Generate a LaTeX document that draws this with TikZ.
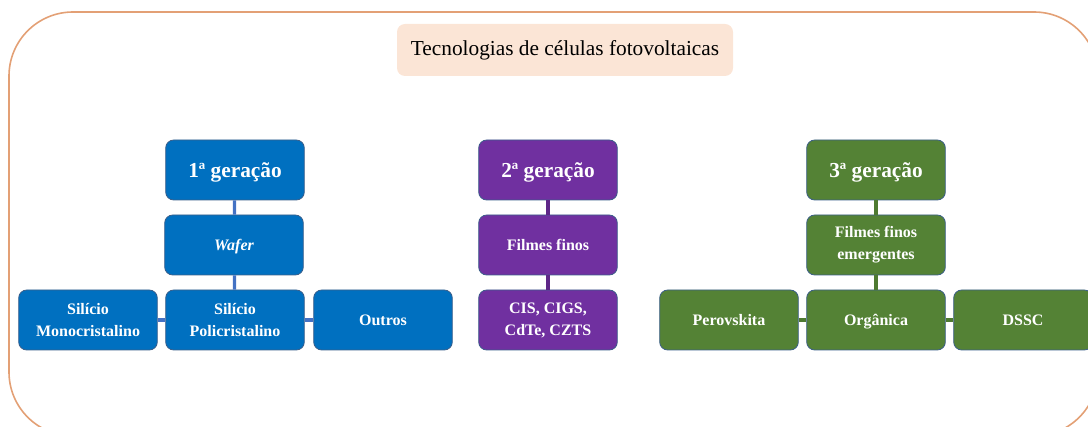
\documentclass[tikz,border=0pt]{standalone}
\usepackage{fontspec}
\setmainfont{Liberation Serif}
\usepackage{tikz}
\usetikzlibrary{positioning}

\definecolor{frameorange}{HTML}{E3A075}
\definecolor{titlefill}{HTML}{FBE5D6}
\definecolor{gblue}{HTML}{0070C0}
\definecolor{gblueline}{HTML}{4472C4}
\definecolor{gpurple}{HTML}{7030A0}
\definecolor{gpurpleline}{HTML}{5E2688}
\definecolor{ggreen}{HTML}{548235}
\definecolor{ggreenline}{HTML}{4E7A31}
\definecolor{boxedge}{HTML}{3C5F8A}

\begin{document}
\begin{tikzpicture}[x=0.75pt, y=-0.75pt,
    techbox/.style={rounded corners=6pt, draw=boxedge, line width=0.6pt,
        minimum width=104pt, minimum height=45pt, align=center,
        text=white, font=\fontsize{12}{16.5}\selectfont\bfseries, inner sep=2pt},
    oneline/.style={text height=9pt, text depth=0pt},
    genbox/.style={techbox, text height=11.5pt, text depth=0pt,
        font=\fontsize{16}{19}\selectfont\bfseries},
    bluebox/.style={fill=gblue},
    purplebox/.style={fill=gpurple},
    greenbox/.style={fill=ggreen},
    link/.style={line width=2.4pt}]
    \useasboundingbox (0,0) rectangle (1088,427);
    \clip (0,0) rectangle (1088,427);
    % Outer frame
    \draw[frameorange, line width=1.2pt, rounded corners=48pt] (9,12) rectangle (1098,436);
    % Title
    \node[fill=titlefill, rounded corners=6pt, minimum width=252pt, minimum height=39pt,
        font=\fontsize{16}{19}\selectfont] (title) at (565,50) {Tecnologias de células fotovoltaicas};

    % 1st generation
    \node[genbox, bluebox] (gen1) at (235,170) {1ª geração};
    \node[techbox, oneline, bluebox] (wafer) at (234,245) {\itshape Wafer};
    \node[techbox, bluebox] (mono) at (88,320) {Silício\\Monocristalino};
    \node[techbox, bluebox] (poli) at (235,320) {Silício\\Policristalino};
    \node[techbox, oneline, bluebox] (outros) at (383,320) {Outros};
    \draw[link, gblueline] (gen1) -- (wafer);
    \draw[link, gblueline] (wafer) -- (poli);
    \draw[link, gblueline] (mono) -- (poli);
    \draw[link, gblueline] (poli) -- (outros);

    % 2nd generation
    \node[genbox, purplebox] (gen2) at (548,170) {2ª geração};
    \node[techbox, oneline, purplebox] (filmes) at (548,245) {Filmes finos};
    \node[techbox, purplebox] (cis) at (548,320) {CIS, CIGS,\\CdTe, CZTS};
    \draw[link, gpurpleline] (gen2) -- (filmes);
    \draw[link, gpurpleline] (filmes) -- (cis);

    % 3rd generation
    \node[genbox, greenbox] (gen3) at (876,170) {3ª geração};
    \node[techbox, greenbox] (emerg) at (876,245) {Filmes finos\\emergentes};
    \node[techbox, oneline, greenbox] (perov) at (729,320) {Perovskita};
    \node[techbox, oneline, greenbox] (organica) at (876,320) {Orgânica};
    \node[techbox, oneline, greenbox] (dssc) at (1023,320) {DSSC};
    \draw[link, ggreenline] (gen3) -- (emerg);
    \draw[link, ggreenline] (emerg) -- (organica);
    \draw[link, ggreenline] (perov) -- (organica);
    \draw[link, ggreenline] (organica) -- (dssc);
\end{tikzpicture}
\end{document}
